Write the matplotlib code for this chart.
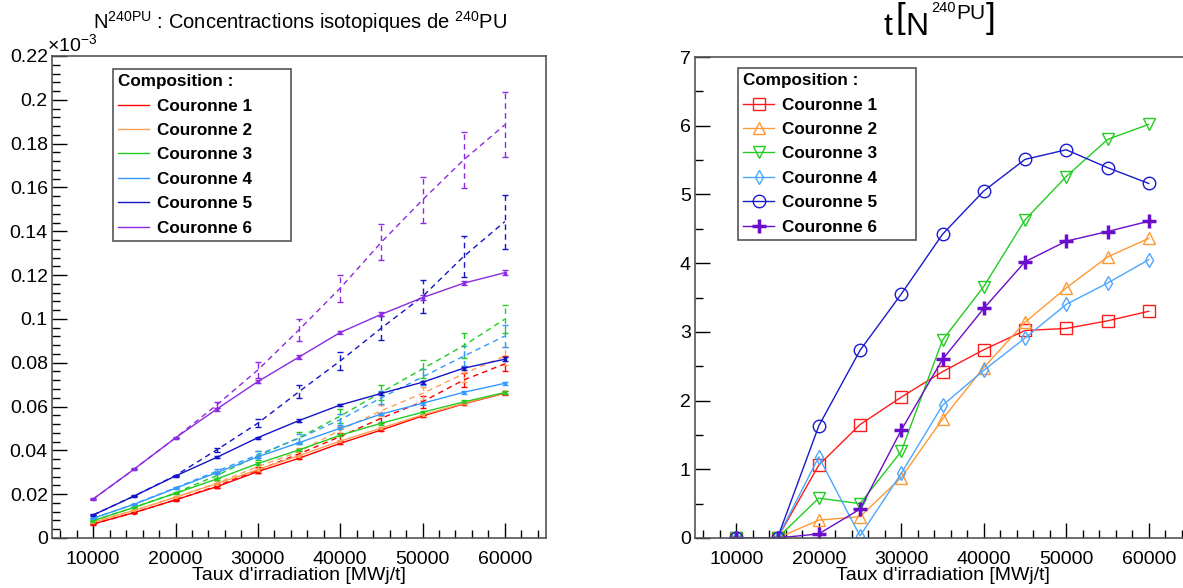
import matplotlib
matplotlib.use("Agg")
import matplotlib.pyplot as plt
from matplotlib.lines import Line2D
from matplotlib.ticker import MultipleLocator, FuncFormatter

plt.rcParams['font.family'] = ['Liberation Sans', 'DejaVu Sans']
plt.rcParams['mathtext.fontset'] = 'custom'
plt.rcParams['mathtext.rm'] = 'Liberation Sans'
plt.rcParams['mathtext.it'] = 'Liberation Sans:italic'
plt.rcParams['mathtext.bf'] = 'Liberation Sans:bold'

# burnup steps
burnup = [10000, 15000, 20000, 25000, 30000, 35000, 40000, 45000, 50000, 55000, 60000]
labels = ['Couronne 1', 'Couronne 2', 'Couronne 3', 'Couronne 4', 'Couronne 5', 'Couronne 6']
colors = ['#ff0000', '#ff9f55', '#22cc22', '#3399ff', '#1414c8', '#8a2be2']
colors_r = ['#ff1a1a', '#ff9933', '#22cc22', '#4da6ff', '#1a1acc', '#6a0dcc']

# left plot, solid lines (x1e-3)
conc1 = [0.0064, 0.0116, 0.0174, 0.0234, 0.0303, 0.0364, 0.0432, 0.0493, 0.0557, 0.0612, 0.0661]
conc2 = [0.0072, 0.0126, 0.0186, 0.0248, 0.0312, 0.0376, 0.0442, 0.0502, 0.0562, 0.0614, 0.0663]
conc3 = [0.0079, 0.0140, 0.0204, 0.0269, 0.0340, 0.0402, 0.0469, 0.0524, 0.0574, 0.0621, 0.0664]
conc4 = [0.0090, 0.0154, 0.0227, 0.0298, 0.0371, 0.0435, 0.0501, 0.0566, 0.0615, 0.0665, 0.0706]
conc5 = [0.0105, 0.0192, 0.0283, 0.0368, 0.0458, 0.0536, 0.0607, 0.0660, 0.0711, 0.0775, 0.0816]
conc6 = [0.0178, 0.0315, 0.0457, 0.0588, 0.0714, 0.0826, 0.0938, 0.1021, 0.1097, 0.1163, 0.1211]
err_c = [0.0003, 0.0003, 0.0004, 0.0004, 0.0005, 0.0005, 0.0005, 0.0006, 0.0006, 0.0007, 0.0008]
err_c6 = [0.0004, 0.0005, 0.0006, 0.0007, 0.0008, 0.0008, 0.0009, 0.0009, 0.0010, 0.0010, 0.0010]

# left plot, dashed lines
dash1 = [0.0064, 0.0116, 0.0174, 0.0237, 0.0310, 0.0384, 0.0463, 0.0547, 0.0622, 0.0721, 0.0795]
dash2 = [0.0072, 0.0126, 0.0186, 0.0250, 0.0326, 0.0394, 0.0493, 0.0581, 0.0660, 0.0749, 0.0831]
dash3 = [0.0079, 0.0140, 0.0206, 0.0285, 0.0375, 0.0458, 0.0556, 0.0665, 0.0772, 0.0878, 0.0999]
dash4 = [0.0090, 0.0155, 0.0229, 0.0305, 0.0380, 0.0455, 0.0540, 0.0640, 0.0735, 0.0830, 0.0922]
dash5 = [0.0105, 0.0192, 0.0285, 0.0402, 0.0524, 0.0668, 0.0808, 0.0958, 0.1102, 0.1285, 0.1444]
dash6 = [0.0178, 0.0315, 0.0457, 0.0607, 0.0767, 0.0950, 0.1140, 0.1350, 0.1543, 0.1726, 0.1886]
err1 = [0, 0, 0, 0.0008, 0.0012, 0.0015, 0.0018, 0.0022, 0.0027, 0.0030, 0.0035]
err2 = [0, 0, 0, 0.0009, 0.0013, 0.0017, 0.0020, 0.0026, 0.0030, 0.0036, 0.0041]
err3 = [0, 0, 0, 0.0010, 0.0020, 0.0027, 0.0032, 0.0034, 0.0040, 0.0057, 0.0065]
err4 = [0, 0, 0, 0.0010, 0.0015, 0.0020, 0.0026, 0.0030, 0.0035, 0.0045, 0.0050]
err5 = [0, 0, 0, 0.0011, 0.0017, 0.0030, 0.0042, 0.0053, 0.0076, 0.0094, 0.0123]
err6 = [0, 0, 0, 0.0014, 0.0036, 0.0050, 0.0062, 0.0081, 0.0104, 0.0127, 0.0149]

# right plot
t1 = [0, 0, 1.06, 1.65, 2.05, 2.42, 2.74, 3.02, 3.05, 3.16, 3.30]
t2 = [0, 0, 0.26, 0.31, 0.88, 1.73, 2.48, 3.14, 3.64, 4.09, 4.36]
t3 = [0, 0, 0.58, 0.50, 1.26, 2.88, 3.66, 4.63, 5.26, 5.80, 6.02]
t4 = [0, 0, 1.18, 0.03, 0.94, 1.93, 2.44, 2.91, 3.40, 3.71, 4.05]
t5 = [0, 0, 1.63, 2.73, 3.55, 4.42, 5.05, 5.51, 5.65, 5.39, 5.16]
t6 = [0, 0, 0.06, 0.42, 1.57, 2.60, 3.34, 4.02, 4.32, 4.46, 4.61]

solid = [conc1, conc2, conc3, conc4, conc5, conc6]
solid_err = [err_c, err_c, err_c, err_c, err_c, err_c6]
dashed = [dash1, dash2, dash3, dash4, dash5, dash6]
dashed_err = [err1, err2, err3, err4, err5, err6]
ratios = [t1, t2, t3, t4, t5, t6]
markers = ['s', '^', 'v', 'd', 'o', '+']

W, H = 1183, 588
fig = plt.figure(figsize=(W / 100, H / 100), dpi=100)
ax1 = fig.add_axes([52 / W, 50 / H, 494 / W, 482 / H])
ax2 = fig.add_axes([695 / W, 50 / H, 495 / W, 481 / H])


def style_axis(ax):
    for s in ax.spines.values():
        s.set_color('#555555')
        s.set_linewidth(1.2)
    ax.tick_params(which='both', direction='in', top=False, right=False,
                   labelsize=14, colors='black')
    ax.tick_params(which='major', length=11, width=1, pad=3)
    ax.tick_params(which='minor', length=6, width=1)
    ax.tick_params(axis='x', pad=9)
    ax.set_xlim(5000, 65000)
    ax.xaxis.set_major_locator(MultipleLocator(10000))
    ax.xaxis.set_minor_locator(MultipleLocator(2000))
    ax.set_xlabel("Taux d'irradiation [MWj/t]", fontsize=14, labelpad=0)


def add_legend(ax, handles, x, y):
    # trailing spaces give the wide right margin of the original boxes
    leg = ax.legend(handles=handles, labels=[lab + ' ' * 7 for lab in labels],
                    loc='upper left', bbox_to_anchor=(x / W, 1 - y / H),
                    bbox_transform=fig.transFigure, title='Composition :',
                    alignment='left', fancybox=False, framealpha=1,
                    edgecolor='#555555', prop={'weight': 'bold', 'size': 12.3},
                    title_fontproperties={'weight': 'bold', 'size': 12.3},
                    handlelength=1.8, labelspacing=0.55, borderpad=0.3,
                    handletextpad=0.5, borderaxespad=0)
    leg.get_frame().set_linewidth(1.2)
    return leg


# left chart
for i in range(6):
    ax1.errorbar(burnup, solid[i], yerr=solid_err[i], color=colors[i], lw=1,
                 marker='s', ms=2, capsize=2, elinewidth=1)
    ebd = ax1.errorbar(burnup, dashed[i], yerr=dashed_err[i], color=colors[i],
                       lw=1, ls=(0, (4, 3)), capsize=2, elinewidth=1)
    ebd[2][0].set_linestyle((0, (4, 3)))

style_axis(ax1)
ax1.set_ylim(0, 0.22)
ax1.yaxis.set_major_locator(MultipleLocator(0.02))
ax1.yaxis.set_minor_locator(MultipleLocator(0.004))
ax1.yaxis.set_major_formatter(FuncFormatter(lambda v, p: '%g' % round(v, 3)))
fig.text(47 / W, 1 - 44 / H, r'$\times$10$^{-3}$', fontsize=14, va='center', ha='left')
fig.text(300 / W, 1 - 22 / H,
         r'N$^{\mathregular{240PU}}$ : Concentractions isotopiques de $^{\mathregular{240}}$PU',
         fontsize=14.5, ha='center', va='center')

h1 = [Line2D([], [], color=colors[i], lw=1) for i in range(6)]
add_legend(ax1, h1, 113, 69)

# right chart
for i in range(6):
    if markers[i] == '+':
        ax2.plot(burnup, ratios[i], color=colors_r[i], lw=1, marker='+', ms=10,
                 mew=2.5, label=labels[i])
    else:
        ax2.plot(burnup, ratios[i], color=colors_r[i], lw=1, marker=markers[i],
                 ms=9 if markers[i] != 'd' else 7, mfc='none', mew=1, label=labels[i])

style_axis(ax2)
ax2.set_ylim(0, 7)
ax2.yaxis.set_major_locator(MultipleLocator(1))
ax2.yaxis.set_minor_locator(MultipleLocator(0.5))
ax2.spines['right'].set_visible(False)

# title t[N^240PU] with tall brackets, built from pieces
base = 1 - 35 / H
fig.text(884 / W, base, 't', fontsize=23, ha='left', va='baseline')
fig.text(896 / W, 1 - 28 / H, '[', fontsize=25, ha='left', va='baseline')
fig.text(905 / W, base, 'N', fontsize=23, ha='left', va='baseline')
fig.text(931 / W, 1 - 12 / H, '240', fontsize=10.5, ha='left', va='baseline')
fig.text(956 / W, 1 - 19 / H, 'PU', fontsize=15, ha='left', va='baseline')
fig.text(986 / W, 1 - 28 / H, ']', fontsize=25, ha='left', va='baseline')

h2 = ax2.get_legend_handles_labels()[0]
add_legend(ax2, h2, 738, 68)

fig.savefig('out.png', dpi=100)
